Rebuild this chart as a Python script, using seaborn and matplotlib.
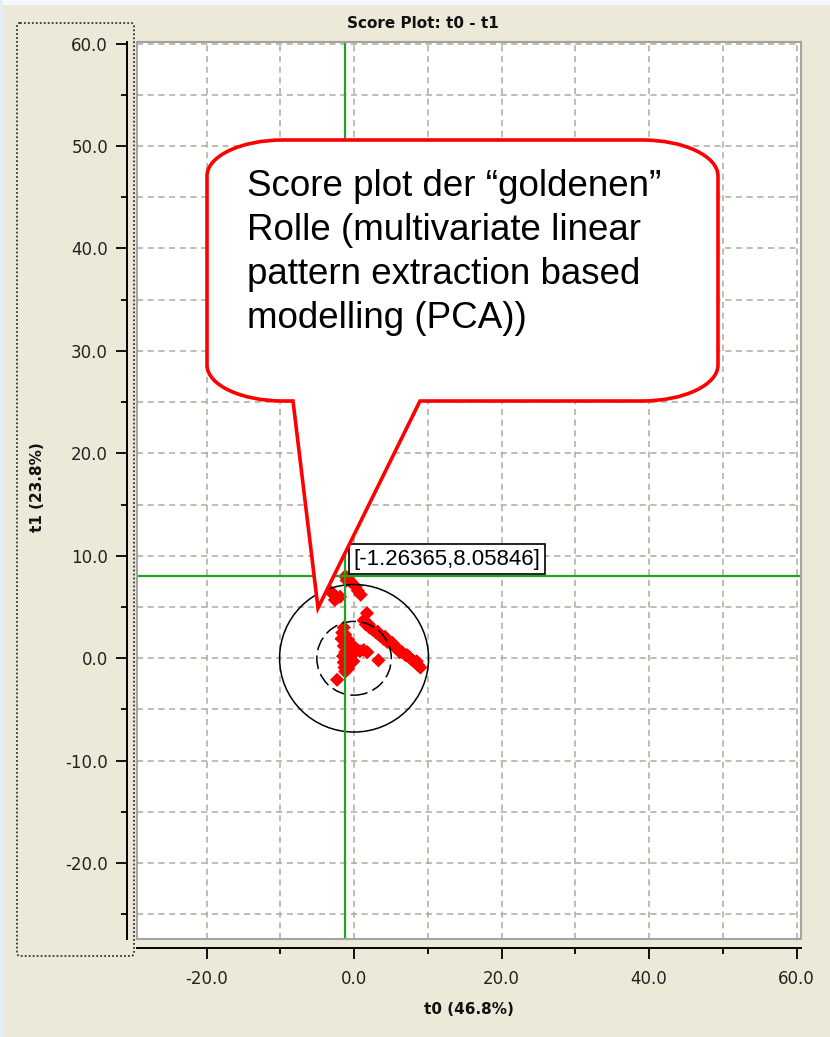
import numpy as np
import pandas as pd
import matplotlib
matplotlib.use("Agg")
import matplotlib.pyplot as plt
import matplotlib.patches as mpatches
import matplotlib.transforms as mtransforms
from matplotlib.path import Path
import seaborn as sns

# score values
t0_scores = [-1.2, -0.8, -0.5, 0.2, 0.5, 0.9, -1.0,
             -3.2, -2.7, -2.3, -1.9, -2.6,
             1.75,
             1.3, 1.6, 2.1, 2.5, 3.0, 3.5, 4.0, 4.5, 5.0, 5.5, 6.0, 6.5, 7.0, 7.5,
             7.9, 8.3, 8.7, 9.0, 2.0, 4.2, 6.2, 3.2, 5.2, 7.2, 8.5,
             -1.4, -1.6, -1.2, -1.7, -1.1, -1.4, -0.9, -1.2, -0.7, -0.5, -1.0,
             -1.4, -0.9, -1.3, -0.8, -1.2, -0.2, 0.3, 0.8, 1.3, 1.8, -0.1,
             -0.6, -0.4, -1.5, -0.8, -0.3, 0.0, -1.1,
             3.3, -2.3]
t1_scores = [8.0, 7.8, 7.5, 7.0, 6.6, 6.2, 7.6,
             6.5, 6.2, 5.9, 6.0, 5.7,
             4.4,
             3.7, 3.3, 3.0, 2.8, 2.5, 2.2, 1.9, 1.6, 1.4, 1.1, 0.9, 0.6, 0.3, 0.1,
             -0.2, -0.4, -0.7, -0.9, 3.3, 2.1, 0.6, 2.6, 1.5, 0.3, -0.3,
             3.0, 2.5, 2.3, 1.9, 1.6, 1.2, 1.0, 0.6, 0.5, 0.1, 0.0,
             -0.4, -0.5, -0.9, -1.0, -1.3, 0.6, 0.9, 0.7, 0.8, 0.6, -0.3,
             -0.2, 0.9, 0.2, 1.8, 0.3, 1.1, -0.9,
             -0.2, -2.1]

cursor_t0 = -1.26365
cursor_t1 = 8.05846

# confidence ellipses, half axes along t0 and t1
outer_ellipse = (10.1, 7.2)
inner_ellipse = (5.05, 3.6)

x_major = [-20, 0, 20, 40, 60]
x_minor = [-10, 10, 30, 50]
y_major = [-20, -10, 0, 10, 20, 30, 40, 50, 60]
y_minor = [-25, -15, -5, 5, 15, 25, 35, 45, 55]
x_tick_labels = ["-20.0", "0.0", "20.0", "40.0", "60.0"]
y_tick_labels = ["-20.0", "-10.0", "0.0", "10.0", "20.0", "30.0", "40.0", "50.0", "60.0"]

title = "Score Plot: t0 - t1"
x_label = "t0 (46.8%)"
y_label = "t1 (23.8%)"
cursor_label = "[-1.26365,8.05846]"
callout_text = ("Score plot der \u201cgoldenen\u201d\nRolle (multivariate linear\n"
                "pattern extraction based\nmodelling (PCA))")

W, H = 830, 1037
BG = "#ECE9D8"

sns.set_theme(style="white")
plt.rcParams["font.family"] = ["DejaVu Sans"]

fig = plt.figure(figsize=(W / 100, H / 100), dpi=100, facecolor=BG)
# image pixel coords (origin top left) -> figure display pixels
px = mtransforms.Affine2D().scale(1, -1).translate(0, H)

ax = fig.add_axes([136.5 / W, 1 - 939 / H, (801 - 136.5) / W, (939 - 42) / H])
ax.set_facecolor("white")

df = pd.DataFrame({"t0": t0_scores, "t1": t1_scores})
sns.scatterplot(data=df, x="t0", y="t1", marker="D", color="#FF0000", s=52,
                edgecolor="none", linewidth=0, ax=ax, zorder=2)

ax.add_patch(mpatches.Ellipse((0, 0), 2 * outer_ellipse[0], 2 * outer_ellipse[1],
                              fill=False, ec="black", lw=1.1, zorder=2.5))
ax.add_patch(mpatches.Ellipse((0, 0), 2 * inner_ellipse[0], 2 * inner_ellipse[1],
                              fill=False, ec="black", lw=1.1, ls=(0, (9, 3.5)), zorder=2.5))

ax.axvline(cursor_t0, color="#22A322", lw=1.6, zorder=3)
ax.axhline(cursor_t1, color="#22A322", lw=1.6, zorder=3)

ax.set_xlim(-29.5, 60.6)
ax.set_ylim(-27.4, 60.15)
ax.set_xticks(x_major)
ax.set_xticks(x_minor, minor=True)
ax.set_yticks(y_major)
ax.set_yticks(y_minor, minor=True)
ax.set_xticklabels(x_tick_labels)
ax.set_yticklabels(y_tick_labels)
ax.set_xlabel("")
ax.set_ylabel("")

ax.set_axisbelow(True)
ax.grid(which="both", ls=(0, (4, 3)), color="#ADAA9D", lw=1.1)

for side in ["top", "right"]:
    ax.spines[side].set_visible(False)
for side in ["left", "bottom"]:
    ax.spines[side].set_position(("outward", 6.5))
    ax.spines[side].set_color("black")
    ax.spines[side].set_linewidth(1.4)
ax.add_patch(mpatches.Rectangle((0, 0), 1, 1, transform=ax.transAxes, fill=False,
                                ec="#A3A3A3", lw=1.5, clip_on=False, zorder=4))

ax.tick_params(which="major", length=8, width=1.3, color="black", labelsize=12,
               labelcolor="#222222", direction="out")
ax.tick_params(which="minor", length=4.5, width=1.3, color="black", direction="out")
ax.tick_params(axis="y", which="both", left=True, pad=6)
ax.tick_params(axis="x", which="both", bottom=True, pad=8)

ax.annotate(cursor_label, xy=(cursor_t0, cursor_t1), xytext=(9, 6),
            textcoords="offset pixels", ha="left", va="bottom",
            family="Liberation Sans", fontsize=16, color="black", zorder=5,
            bbox=dict(boxstyle="square,pad=0.2", fc="white", ec="black", lw=1.2))

fig.text(423 / W, 1 - 24 / H, title, ha="center", va="center",
         fontsize=11, fontweight="bold", color="#111111")
fig.text(468.5 / W, 1 - 1010 / H, x_label, ha="center", va="center",
         fontsize=11, fontweight="bold", color="#111111")
fig.text(37 / W, 1 - 487 / H, y_label, ha="center", va="center", rotation=90,
         fontsize=11, fontweight="bold", color="#111111")

# frame decorations of the window
frame = mpatches.FancyBboxPatch((17, 23), 117, 933, boxstyle="round,pad=0,rounding_size=3",
                                fill=False, ec="#333333", lw=1.3, ls=(0, (1, 1.2)),
                                transform=px)
fig.add_artist(frame)
fig.add_artist(mpatches.Rectangle((0, 0), W, 5, fc="#F4F7FB", ec="none", transform=px))
fig.add_artist(mpatches.Rectangle((0, 0), 3, H, fc="#E4ECF4", ec="none", transform=px))

# speech bubble callout
L, R, T, B, rx, ry = 207, 718, 140, 401, 76, 36
k = 0.5523
verts = [(L, T + ry),
         (L, T + ry - k * ry), (L + rx - k * rx, T), (L + rx, T),
         (R - rx, T),
         (R - rx + k * rx, T), (R, T + ry - k * ry), (R, T + ry),
         (R, B - ry),
         (R, B - ry + k * ry), (R - rx + k * rx, B), (R - rx, B),
         (420, B), (318, 608), (293, B),
         (L + rx, B),
         (L + rx - k * rx, B), (L, B - ry + k * ry), (L, B - ry),
         (L, T + ry)]
codes = ([Path.MOVETO] + [Path.CURVE4] * 3 + [Path.LINETO] + [Path.CURVE4] * 3 +
         [Path.LINETO] + [Path.CURVE4] * 3 + [Path.LINETO] * 4 + [Path.CURVE4] * 3 +
         [Path.CLOSEPOLY])
bubble = mpatches.PathPatch(Path(verts, codes), fc="white", ec="#FF0000", lw=2.6,
                            joinstyle="miter", transform=px, zorder=6)
fig.add_artist(bubble)
fig.text(247 / W, 1 - 169 / H, callout_text, ha="left", va="top",
         family="Liberation Sans", fontsize=26.5, linespacing=1.33,
         color="black", zorder=7)

fig.savefig("out.png", dpi=100, facecolor=BG)
